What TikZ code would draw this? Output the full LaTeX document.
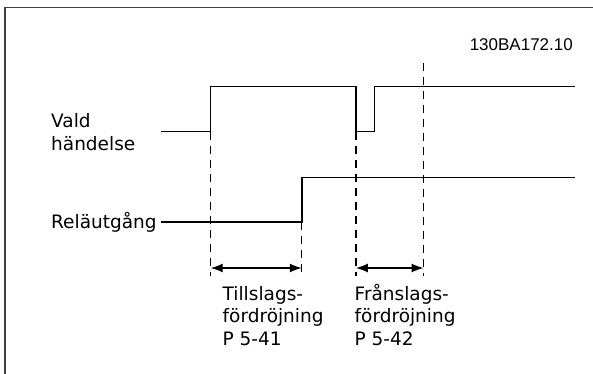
\documentclass[tikz,border=0pt]{standalone}
\usepackage{fontspec}
\setmainfont{DejaVu Sans}
\newfontfamily\codefont{Liberation Sans}
\usetikzlibrary{arrows.meta}
\begin{document}
\begin{tikzpicture}[x=1pt,y=-1pt,
  sig/.style={line width=1.4pt,black},
  guide/.style={line width=1.2pt,black,dash pattern=on 8pt off 6pt},
  span/.style={line width=1.4pt,{Latex[length=12pt,width=9pt]}-{Latex[length=12pt,width=9pt]}},
  lbl/.style={font=\fontsize{18.5}{22.3}\selectfont,inner sep=0pt,anchor=base west,align=left},
  frame/.style={line width=1.5pt,black!75}]
\useasboundingbox (0,0) rectangle (593,373);
\fill[white] (0,0) rectangle (593,373);
% frame
\coordinate (fb) at (5,380);
\coordinate (ftl) at (5,7.5);
\coordinate (fr) at (600,7.5);
\draw[frame] (fb) -- (ftl) -- (fr);
% code
\node[font=\codefont\fontsize{17}{19}\selectfont,inner sep=0pt,anchor=base east] (code) at (573,50) {130BA172.10};
% key points
\coordinate (a0) at (160.7,131.7);
\coordinate (a1) at (210.7,131.7);
\coordinate (a2) at (210.7,86.7);
\coordinate (a3) at (355.9,86.7);
\coordinate (a4) at (355.9,131.7);
\coordinate (a5) at (374.4,131.7);
\coordinate (a6) at (374.4,86.7);
\coordinate (a7) at (575,86.7);
\coordinate (b0) at (160.7,222);
\coordinate (b1) at (301.8,222);
\coordinate (b2) at (301.8,177.7);
\coordinate (b3) at (575,177.7);
% guides
\coordinate (g1) at (210.7,276);
\coordinate (g2) at (301.8,276);
\coordinate (g3) at (355.9,276);
\coordinate (g4t) at (423.6,63);
\coordinate (g4) at (423.6,276);
\draw[guide] (a1) -- (g1);
\draw[guide] (b1) -- (g2);
\draw[guide] (a4) -- (g3);
\draw[guide] (g4t) -- (g4);
% signals
\draw[sig] (a0) -- (a1) -- (a2) -- (a3) -- (a4) -- (a5) -- (a6) -- (a7);
\draw[sig] (b0) -- (b1) -- (b2) -- (b3);
% spans
\coordinate (s1l) at (210.7,268);
\coordinate (s1r) at (301.8,268);
\coordinate (s2l) at (355.9,268);
\coordinate (s2r) at (423.6,268);
\draw[span] (s1l) -- (s1r);
\draw[span] (s2l) -- (s2r);
% labels (base = baseline of last line)
\node[lbl] (vald) at (51,150) {Vald\\händelse};
\node[lbl] (rel) at (51,228) {Reläutgång};
\node[lbl] (till) at (222.5,345) {Tillslags-\\fördröjning\\P 5-41};
\node[lbl] (fran) at (354.5,345) {Frånslags-\\fördröjning\\P 5-42};
\end{tikzpicture}
\end{document}
